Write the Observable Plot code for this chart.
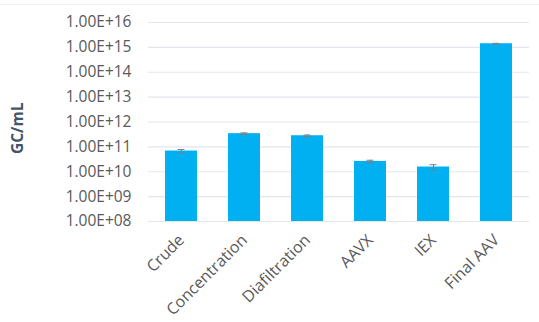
<!DOCTYPE html>
<html>
<head>
<meta charset="utf-8">
<script src="https://cdn.jsdelivr.net/npm/d3@7"></script>
<script src="https://cdn.jsdelivr.net/npm/@observablehq/plot@0.6"></script>
<style>
  html, body { margin: 0; padding: 0; background: #fff; }
  #chart { width: 539px; height: 322px; position: relative; }
  #chart svg { display: block; }
  .topline { position: absolute; left: 0; top: 4px; width: 539px; height: 1px; background: #eef0f3; }
</style>
</head>
<body>
<div id="chart"><div class="topline"></div></div>
<script>
const categories = ["Crude", "Concentration", "Diafiltration", "AAVX", "IEX", "Final AAV"];
const values = [6.8e10, 3.4e11, 2.8e11, 2.6e10, 1.55e10, 1.4e15];
const errors = [1.0e10, 2.5e10, 2.0e10, 3.0e9, 3.7e9, 5.0e13];
const yTicks = [1e8, 1e9, 1e10, 1e11, 1e12, 1e13, 1e14, 1e15, 1e16];
const yTitle = "GC/mL";

const data = categories.map((c, i) => ({cat: c, v: values[i], lo: values[i] - errors[i], hi: values[i] + errors[i]}));
const fmt = d => "1.00E+" + String(Math.round(Math.log10(d))).padStart(2, "0");
const font = "'Open Sans', 'DejaVu Sans', sans-serif";

const chart = Plot.plot({
  width: 539,
  height: 322,
  marginLeft: 148,
  marginRight: 10,
  marginTop: 22,
  marginBottom: 101,
  style: {fontFamily: font, fontSize: "15px", color: "#595959", background: "#fff"},
  x: {domain: categories, paddingInner: 0.49, paddingOuter: 0.245, label: null},
  y: {type: "log", domain: [1e8, 1e16], label: null},
  marks: [
    Plot.gridY(yTicks, {stroke: "#e3e6eb", strokeOpacity: 1, strokeWidth: 1.2}),
    Plot.axisY(yTicks, {tickFormat: fmt, tickSize: 0, tickPadding: 17, fill: "#595959", fontSize: 15.5, label: null}),
    Plot.axisX({tickSize: 0, tickPadding: 16, tickRotate: -45, fill: "#595959", fontSize: 16, label: null}),
    Plot.barY(data, {x: "cat", y1: () => 1e8, y2: "v", fill: "#00b0f0"}),
    Plot.ruleX(data, {x: "cat", y1: "lo", y2: "hi", stroke: "#7f7f7f", strokeWidth: 1}),
    Plot.tickY(data, {x: "cat", y: "lo", stroke: "#7f7f7f", strokeWidth: 1, inset: 12.5}),
    Plot.tickY(data, {x: "cat", y: "hi", stroke: "#7f7f7f", strokeWidth: 1, inset: 12.5}),
    Plot.text([yTitle], {frameAnchor: "left", dx: -130, dy: 32, rotate: -90, fontWeight: "bold", fontSize: 15.5, fill: "#44546a"})
  ]
});
document.getElementById("chart").appendChild(chart);
</script>
</body>
</html>
